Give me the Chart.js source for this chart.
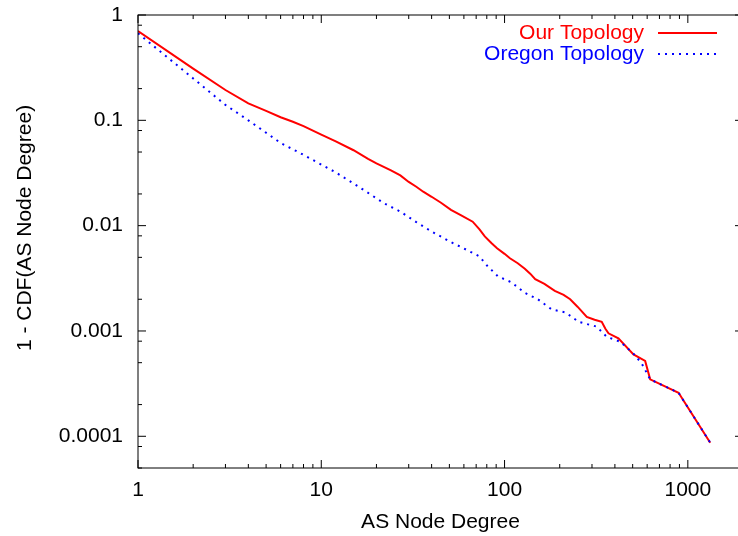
<!DOCTYPE html>
<html>
    <head>
        <meta charset="utf-8">
        <title>AS node degree ccdf</title>
        <script src="https://cdn.jsdelivr.net/npm/chart.js@4/dist/chart.umd.min.js"></script>
        <style>
            html, body { margin: 0; padding: 0; overflow: hidden; background: #fff; }
            #wrap { width: 748px; height: 536px; }
        </style>
    </head>
    <body>
        <div id="wrap">
            <canvas id="canvas"></canvas>
        </div>

<script>
// series names
var seriesNames = ['Our Topology', 'Oregon Topology'];

// Our Topology: degree / 1-CDF
var ourDegree = [1, 2, 3, 4, 5, 6, 7, 8, 10, 12, 15, 18, 20, 24, 27, 30, 33, 36, 40, 45, 51, 58, 67, 73, 78, 85, 91, 100, 107, 118, 129, 138, 147, 165, 188, 210, 228, 250, 281, 310, 339, 355, 369, 418, 505, 585, 623, 890, 1325];
var ourCcdf = [0.705, 0.31, 0.194, 0.145, 0.123, 0.107, 0.097, 0.088, 0.073, 0.063, 0.052, 0.043, 0.039, 0.0335, 0.030, 0.026, 0.0234, 0.021, 0.0188, 0.0165, 0.0141, 0.0125, 0.0109, 0.0092, 0.0079, 0.0068, 0.0061, 0.0054, 0.0049, 0.0044, 0.0039, 0.0035, 0.0031, 0.0028, 0.0024, 0.0022, 0.0020, 0.0017, 0.00136, 0.00128, 0.00122, 0.00105, 0.00095, 0.00085, 0.0006, 0.00052, 0.000347, 0.000259, 0.000087];

// Oregon Topology: degree / 1-CDF
var oregonDegree = [1, 2, 3, 4, 6, 8, 9, 12, 16, 22, 27, 33, 40, 50, 62, 73, 80, 92, 100, 109, 129, 152, 181, 215, 254, 318, 361, 428, 505, 561, 623, 890, 1325];
var oregonCcdf = [0.67, 0.25, 0.14, 0.1, 0.061, 0.047, 0.042, 0.032, 0.0234, 0.0163, 0.0136, 0.0108, 0.0088, 0.0071, 0.0059, 0.0051, 0.0042, 0.0033, 0.0031, 0.0029, 0.0023, 0.0020, 0.0016, 0.0015, 0.00122, 0.0011, 0.00088, 0.00079, 0.00061, 0.00049, 0.000347, 0.000259, 0.000087];

// axis ticks
var xTickValues = [1, 10, 100, 1000];
var xTickLabels = ['1', '10', '100', '1000'];
var yTickValues = [0.0001, 0.001, 0.01, 0.1, 1];
var yTickLabels = ['0.0001', '0.001', '0.01', '0.1', '1'];

var xMinor = [2, 3, 4, 5, 6, 7, 8, 9];
var yMinor = [2, 5, 8];

var fontFamily = "'Liberation Sans', Arial, sans-serif";

function toPoints(xs, ys) {
    return xs.map(function(x, i) { return {x: x, y: ys[i]}; });
}

// gnuplot style frame, inward ticks, legend and y title
var framePlugin = {
    id: 'frame',
    afterDraw: function(chart) {
        var ctx = chart.ctx;
        var a = chart.chartArea;
        var xs = chart.scales.x;
        var ys = chart.scales.y;
        ctx.save();
        ctx.strokeStyle = '#000';
        ctx.lineWidth = 1;
        ctx.strokeRect(a.left, a.top, a.right - a.left, a.bottom - a.top);

        function xTick(v, len) {
            var px = xs.getPixelForValue(v);
            if (px < a.left - 0.5 || px > a.right + 0.5) return;
            ctx.beginPath();
            ctx.moveTo(px, a.bottom); ctx.lineTo(px, a.bottom - len);
            ctx.moveTo(px, a.top); ctx.lineTo(px, a.top + len);
            ctx.stroke();
        }
        function yTick(v, len) {
            var py = ys.getPixelForValue(v);
            if (py < a.top - 0.5 || py > a.bottom + 0.5) return;
            ctx.beginPath();
            ctx.moveTo(a.left, py); ctx.lineTo(a.left + len, py);
            ctx.moveTo(a.right, py); ctx.lineTo(a.right - len, py);
            ctx.stroke();
        }
        xTickValues.forEach(function(v) {
            xTick(v, 8);
            xMinor.forEach(function(m) { xTick(v * m, 4); });
        });
        yTickValues.concat([0.00001]).forEach(function(v) {
            yTick(v, 8);
            yMinor.forEach(function(m) { yTick(v * m, 4); });
        });

        // y axis title
        ctx.fillStyle = '#000';
        ctx.font = '21px ' + fontFamily;
        ctx.textAlign = 'center';
        ctx.textBaseline = 'middle';
        ctx.translate(25, 228);
        ctx.rotate(-Math.PI / 2);
        ctx.fillText('1 - CDF(AS Node Degree)', 0, 0);
        ctx.restore();

        // legend, text right aligned with sample line to its right
        ctx.save();
        ctx.font = '21px ' + fontFamily;
        ctx.textAlign = 'right';
        ctx.textBaseline = 'middle';
        chart.data.datasets.forEach(function(ds, i) {
            var y = 33 + i * 21;
            ctx.fillStyle = ds.borderColor;
            ctx.fillText(ds.label, 644, y);
            ctx.strokeStyle = ds.borderColor;
            ctx.lineWidth = ds.borderWidth;
            ctx.setLineDash(ds.borderDash || []);
            ctx.beginPath();
            ctx.moveTo(658, y);
            ctx.lineTo(717, y);
            ctx.stroke();
        });
        ctx.restore();
    }
};

var chartData = {
    datasets: [
        {
            label: seriesNames[0],
            data: toPoints(ourDegree, ourCcdf),
            borderColor: '#ff0000',
            backgroundColor: '#ff0000',
            borderWidth: 2,
            pointRadius: 0,
            fill: false,
            tension: 0,
            order: 1
        },
        {
            label: seriesNames[1],
            data: toPoints(oregonDegree, oregonCcdf),
            borderColor: '#0000ff',
            backgroundColor: '#0000ff',
            borderWidth: 2,
            borderDash: [2, 5],
            pointRadius: 0,
            fill: false,
            tension: 0,
            order: 0
        }
    ]
};

var options = {
    animation: false,
    responsive: true,
    maintainAspectRatio: false,
    layout: { padding: { left: 0, top: 15, right: 5, bottom: 0 } },
    plugins: {
        legend: { display: false },
        tooltip: { enabled: false }
    },
    scales: {
        x: {
            type: 'logarithmic',
            min: 1,
            max: 2000,
            grid: { display: false, drawTicks: false },
            border: { display: false },
            afterBuildTicks: function(scale) {
                scale.ticks = xTickValues.map(function(v) { return {value: v}; });
            },
            afterFit: function(scale) {
                scale.height = 68;
                scale.paddingLeft = 0;
                scale.paddingRight = 0;
            },
            ticks: {
                autoSkip: false,
                maxRotation: 0,
                padding: 10,
                color: '#000',
                font: { family: fontFamily, size: 21 },
                callback: function(value) {
                    var i = xTickValues.indexOf(value);
                    return i < 0 ? '' : xTickLabels[i];
                }
            },
            title: {
                display: true,
                text: 'AS Node Degree',
                color: '#000',
                font: { family: fontFamily, size: 21 },
                padding: { top: 0, bottom: 1 }
            }
        },
        y: {
            type: 'logarithmic',
            min: 0.00005,
            max: 1,
            grid: { display: false, drawTicks: false },
            border: { display: false },
            afterBuildTicks: function(scale) {
                scale.ticks = yTickValues.map(function(v) { return {value: v}; });
            },
            afterFit: function(scale) {
                scale.width = 138;
                scale.paddingTop = 0;
                scale.paddingBottom = 0;
            },
            ticks: {
                autoSkip: false,
                padding: 15,
                color: '#000',
                font: { family: fontFamily, size: 21 },
                callback: function(value) {
                    var i = yTickValues.indexOf(value);
                    return i < 0 ? '' : yTickLabels[i];
                }
            }
        }
    }
};

var canvas = document.getElementById('canvas');
var ctx = canvas.getContext('2d');
window.myChart = new Chart(ctx, {
    type: 'line',
    data: chartData,
    options: options,
    plugins: [framePlugin]
});
</script>
    </body>
</html>
